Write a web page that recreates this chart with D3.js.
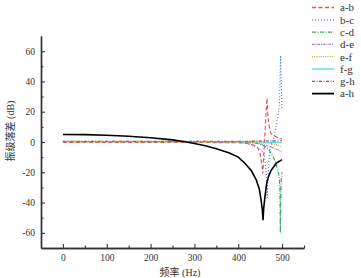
<!DOCTYPE html>
<html><head><meta charset="utf-8">
<script src="https://cdn.jsdelivr.net/npm/d3@7"></script>
<style>
body{margin:0;background:#fff;}
</style></head>
<body><svg id="c" width="361" height="278"></svg>
<script>
// ---- data ----
const seriesNames = ["a-b","b-c","c-d","d-e","e-f","f-g","g-h","a-h"];
const xTicks = [0,100,200,300,400,500];
const yTicks = [-60,-40,-20,0,20,40,60];

const fAB = [0,100,200,300,400,420,435,445,450,454,456,458,460,462,464,465.5,467,469,471,474,480,490,500];
const vAB = [-0.3,-0.3,-0.3,-0.3,-0.5,-1,-2,-4,-8,-15,-21,-10,0,12,22,29,20,13,10,6,4.5,3,2];

const fBC = [0,100,200,300,400,420,440,452,458,461,464,466,468,470,473,477,480,485,489,492,494,496.5,499.5,500];
const vBC = [0.2,0.2,0.2,0.2,0,-1,-3,-5,-7.5,-12,-21,-37,-25,-12,-4,0,2,8,15,20,25,57,22,21];

const fCD = [0,100,200,300,400,420,444,455,465,471,478,485,490,493,495,496,497,498,500];
const vCD = [0.2,0.2,0.2,0.2,0,-0.3,-1,-2,-3.5,-5.5,-9,-13,-18.7,-22,-30,-60,-40,-25,-20];

const fDE = [0,100,200,300,400,430,450,470,485,500];
const vDE = [0.3,0.3,0.3,0.3,0.2,0,-1,-3,-4.5,-6.6];

const fEF = [0,100,200,300,400,440,470,490,500];
const vEF = [0.1,0.1,0.1,0.1,0,-0.3,-1,-2,-3.3];

const fFG = [0,100,200,300,400,450,500];
const vFG = [0.4,0.4,0.4,0.4,0.3,0,-0.5];

const fGH = [0,100,200,300,400,450,500];
const vGH = [0.5,0.5,0.5,0.5,0.5,0.6,0.8];

const fAH = [0,50,100,150,200,250,275,300,325,350,380,400,415,430,441,448,452,455,456.5,458,461,465,470,475,487,500];
const vAH = [5.0,4.9,4.5,3.8,2.8,1.4,0.3,-1.0,-2.5,-4.5,-7.3,-10,-14,-19,-25,-31,-38,-45,-51.7,-44,-36,-27,-22,-18.7,-14,-11.6];

const seriesF = [fAB,fBC,fCD,fDE,fEF,fFG,fGH,fAH];
const seriesV = [vAB,vBC,vCD,vDE,vEF,vFG,vGH,vAH];

// ---- styles ----
const FONT = "'Liberation Serif','Times New Roman','Noto Sans CJK SC',serif";
const colors = ["#f04a4a","#4a7be8","#3aaa6a","#b07ae8","#e0a020","#40d8d8","#a04848","#000000"];
const dashes = ["4,2.5","1,2","4,1.5,1,1.5","2.5,1,1,1","1,1.2",null,"3,1.5,1,1.5",null];
const widths = [1.1,1.1,1.2,1.1,1.1,1.0,1.1,1.6];

const svg = d3.select("#c");
const x = d3.scaleLinear().domain([-50,550]).range([41,304]);
const y = d3.scaleLinear().domain([-70,70]).range([248,36]);

// axes
const gx = svg.append("g").attr("transform","translate(0,248)");
gx.call(d3.axisBottom(x).tickValues(xTicks).tickSizeInner(-4).tickSizeOuter(0).tickPadding(6).tickFormat(d=>String(d)));
gx.append("g").call(d3.axisBottom(x).tickValues([50,150,250,350,450,550]).tickSizeInner(-2.5).tickSizeOuter(0).tickFormat(""));
const gy = svg.append("g").attr("transform","translate(41,0)");
gy.call(d3.axisLeft(y).tickValues(yTicks).tickSizeInner(-4).tickSizeOuter(0).tickPadding(6).tickFormat(d=>String(d)));
gy.append("g").call(d3.axisLeft(y).tickValues([-50,-30,-10,10,30,50]).tickSizeInner(-2.5).tickSizeOuter(0).tickFormat(""));
svg.selectAll("g").attr("font-family",null);
svg.selectAll(".domain").attr("stroke","#333").attr("stroke-width",1.4);
svg.selectAll(".tick line").attr("stroke","#333").attr("stroke-width",1.1);
svg.selectAll(".tick text").style("font-size","9.5px").style("font-family",FONT).attr("fill","#333");

// lines
const line = d3.line().x(d=>x(d[0])).y(d=>y(d[1]));
seriesNames.forEach((n,i)=>{
  const pts = seriesF[i].map((f,j)=>[f,seriesV[i][j]]);
  svg.append("path").datum(pts).attr("d",line).attr("fill","none")
    .attr("stroke",colors[i]).attr("stroke-width",widths[i])
    .attr("stroke-dasharray",dashes[i]);
});

// legend
const lg = svg.append("g");
seriesNames.forEach((n,i)=>{
  const yy = 7.5 + i*12.3;
  lg.append("line").attr("x1",312).attr("x2",334).attr("y1",yy).attr("y2",yy)
    .attr("stroke",colors[i]).attr("stroke-width",widths[i]+0.2).attr("stroke-dasharray",dashes[i]);
  lg.append("text").attr("x",340).attr("y",yy+3.8).style("font-size","11px").style("font-family",FONT).attr("fill","#333").text(n);
});

// axis titles
svg.append("text").attr("x",180).attr("y",275.5).attr("text-anchor","middle").style("font-size","10px").style("font-family",FONT).attr("fill","#333").text("频率 (Hz)");
svg.append("text").attr("transform","translate(14,131) rotate(-90)").attr("text-anchor","middle").style("font-size","10px").style("font-family",FONT).attr("fill","#333").text("振级落差 (dB)");
</script></body></html>
